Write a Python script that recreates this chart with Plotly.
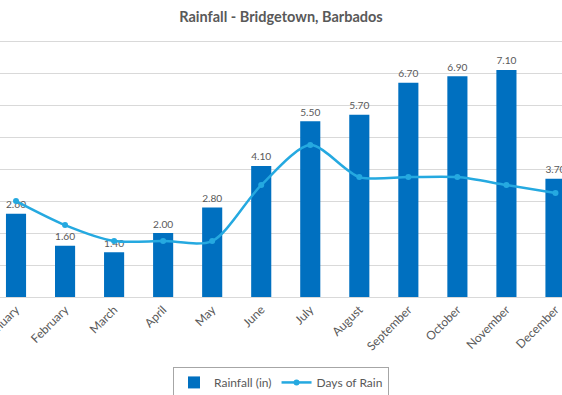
import plotly.graph_objects as go

months = ["January", "February", "March", "April", "May", "June", "July",
          "August", "September", "October", "November", "December"]
rainfall_in = [2.60, 1.60, 1.40, 2.00, 2.80, 4.10, 5.50, 5.70, 6.70, 6.90, 7.10, 3.70]
days_of_rain = [12, 9, 7, 7, 7, 14, 19, 15, 15, 15, 14, 13]

TXT = "#595959"
FONT = "Lato"

fig = go.Figure()
fig.add_trace(go.Bar(
    x=months, y=rainfall_in, name="Rainfall (in)",
    marker=dict(color="#0070C0", line=dict(width=0)),
    text=[f"{v:.2f}" for v in rainfall_in], textposition="outside",
    textfont=dict(color=TXT, size=12, family=FONT), cliponaxis=False,
))
fig.add_trace(go.Scatter(
    x=months, y=days_of_rain, name="Days of Rain", yaxis="y2",
    mode="lines+markers", line=dict(color="#25A9E0", width=2.5, shape="spline", smoothing=0.8),
    marker=dict(color="#25A9E0", size=6),
))

fig.update_layout(
    width=562, height=395,
    margin=dict(l=0, r=0, t=38.3, b=97.5, autoexpand=False),
    paper_bgcolor="white", plot_bgcolor="white",
    font=dict(family=FONT, color=TXT, size=12),
    title=dict(text="<b>Rainfall - Bridgetown, Barbados</b>", x=0.5, xanchor="center",
               y=1 - 17 / 395, yanchor="middle", font=dict(size=14.5, color=TXT, family=FONT)),
    bargap=0.59,
    showlegend=True,
    legend=dict(orientation="h", x=0.5, xanchor="center", y=-0.27, yanchor="top",
                bordercolor="#a6a6a6", borderwidth=1, font=dict(size=12, color=TXT),
                itemwidth=30, tracegroupgap=0),
    xaxis=dict(type="category", range=[-0.3265, 11.133], tickangle=-45,
               showgrid=False, showline=True, linecolor="#d9d9d9", ticks="",
               automargin=False, tickfont=dict(size=12, color=TXT)),
    yaxis=dict(range=[0, 8.1], dtick=1, showgrid=True, gridcolor="#d9d9d9",
               showticklabels=False, zeroline=False, ticks="", automargin=False),
    yaxis2=dict(range=[0, 32.4], overlaying="y", side="right", visible=False,
                showgrid=False, automargin=False),
)

fig.write_html("out.html", config={"displayModeBar": False},
               post_script="document.body.style.margin='0';document.body.style.overflow='hidden';")
